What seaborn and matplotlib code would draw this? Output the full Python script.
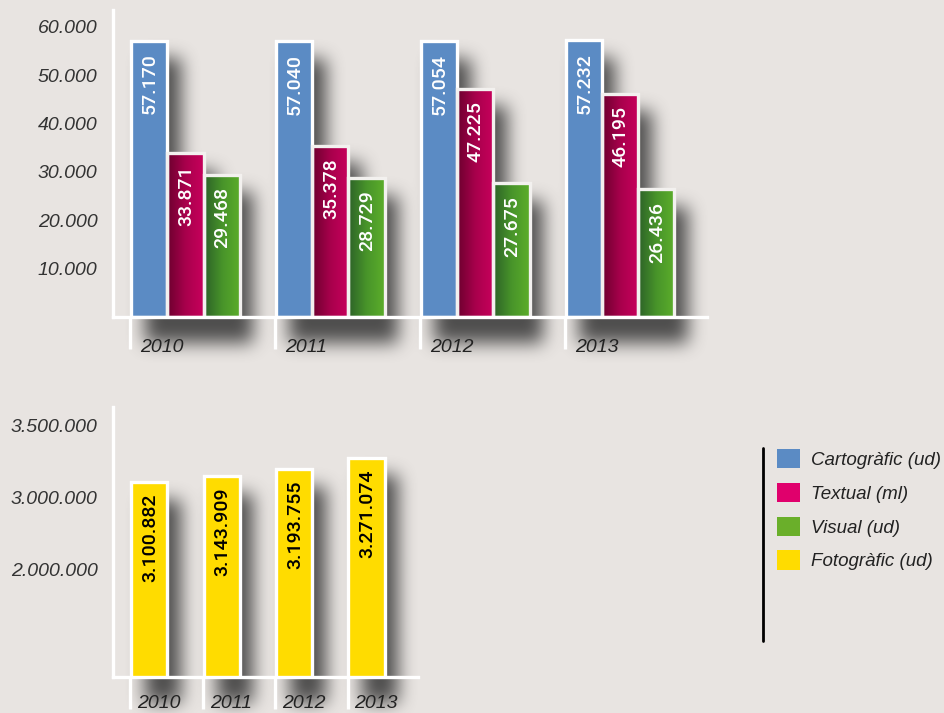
import numpy as np
import pandas as pd
import matplotlib
matplotlib.use("Agg")
import matplotlib.pyplot as plt
import seaborn as sns
from matplotlib.colors import LinearSegmentedColormap
from matplotlib.patches import Patch
from matplotlib.lines import Line2D

# ----------------------------
# DATA
# ----------------------------
years = ["2010", "2011", "2012", "2013"]
cartografic = [57170, 57040, 57054, 57232]
textual = [33871, 35378, 47225, 46195]
visual = [29468, 28729, 27675, 26436]
fotografic = [3100882, 3143909, 3193755, 3271074]

series_names = ["Cartogràfic (ud)", "Textual (ml)", "Visual (ud)", "Fotogràfic (ud)"]
series_colors = ["#5b8bc4", "#e0006c", "#6aaf2a", "#ffdc00"]

top_ticks = [10000, 20000, 30000, 40000, 50000, 60000]
top_tick_labels = ["10.000", "20.000", "30.000", "40.000", "50.000", "60.000"]
bottom_ticks = [2500000, 3000000, 3500000]
bottom_tick_labels = ["2.000.000", "3.000.000", "3.500.000"]

# ----------------------------
# STYLE
# ----------------------------
BG = "#e8e4e1"
sns.set_style("white")
plt.rcParams["font.family"] = ["Liberation Sans", "DejaVu Sans"]
plt.rcParams["figure.facecolor"] = BG

W, H = 944, 713
fig = plt.figure(figsize=(W / 100, H / 100), dpi=100)

ax_top = fig.add_axes([113 / W, 1 - 317 / H, 594 / W, 307 / H])
ax_bot = fig.add_axes([113 / W, 1 - 677 / H, 305 / W, 270 / H])


def fmt(v):
    return f"{v:,}".replace(",", ".")


# top chart: long form table
top_df = pd.DataFrame({
    "Any": years * 3,
    "Serie": [series_names[0]] * 4 + [series_names[1]] * 4 + [series_names[2]] * 4,
    "Valor": cartografic + textual + visual,
})
sns.barplot(data=top_df, x="Any", y="Valor", hue="Serie", ax=ax_top,
            palette=series_colors[:3], width=0.75, legend=False,
            edgecolor="white", linewidth=2.4, saturation=1)

bot_df = pd.DataFrame({"Any": years, "Valor": fotografic})
sns.barplot(data=bot_df, x="Any", y="Valor", ax=ax_bot, color=series_colors[3],
            width=0.5, edgecolor="white", linewidth=2.4, saturation=1)

# gradients for textual / visual bars
gradients = {
    1: LinearSegmentedColormap.from_list("mag", ["#6c002e", "#a8004c", "#c8005c"]),
    2: LinearSegmentedColormap.from_list("grn", ["#2c6128", "#48942a", "#5cae2a"]),
}
grad = np.linspace(0, 1, 128)[None, :]
for k, cont in enumerate(ax_top.containers):
    for p in cont.patches:
        p.set_zorder(3)
        if k in gradients:
            x0, w, h = p.get_x(), p.get_width(), p.get_height()
            ax_top.imshow(grad, extent=(x0, x0 + w, 0, h), aspect="auto",
                          cmap=gradients[k], zorder=2, interpolation="bilinear")
            p.set_facecolor("none")
            p.set_edgecolor("#f3f1ef")
ax_top.set_xlim(-0.5, 3.6)
ax_top.set_ylim(0, 63500)
ax_bot.set_xlim(-0.5, 3.71)
ax_bot.set_ylim(1750000, 3625000)

# bar value labels
lab_font = {"family": ["Roboto", "Liberation Sans"], "weight": "medium", "size": 14}
for k, cont in enumerate(ax_top.containers):
    vals = [cartografic, textual, visual][k]
    for p, v in zip(cont.patches, vals):
        ax_top.annotate(fmt(v), (p.get_x() + p.get_width() / 2, p.get_height()),
                        xytext=(0.5, -9), textcoords="offset points", rotation=90,
                        ha="center", va="top", color="white", zorder=5, **lab_font)
for p, v in zip(ax_bot.containers[0].patches, fotografic):
    p.set_zorder(3)
    ax_bot.annotate(fmt(v), (p.get_x() + p.get_width() / 2, p.get_height()),
                    xytext=(0.5, -8), textcoords="offset points", rotation=90,
                    ha="center", va="top", color="black", zorder=5, **lab_font)

# axes decoration
for ax, tick_x, year_x, year_off in [(ax_top, -0.38, -0.31, -22), (ax_bot, -0.26, -0.165, -19)]:
    ax.set_facecolor("none")
    for s in ["top", "right"]:
        ax.spines[s].set_visible(False)
    for s in ["left", "bottom"]:
        ax.spines[s].set_color("white")
        ax.spines[s].set_linewidth(2.4)
        ax.spines[s].set_zorder(6)
    ax.set_xlabel("")
    ax.set_ylabel("")
    ax.set_xticks([i + tick_x for i in range(len(years))], [""] * len(years))
    ax.tick_params(axis="x", bottom=True, length=23, width=2.4, color="white",
                   direction="out")
    ax.tick_params(axis="y", left=False, length=0, pad=11, labelsize=14,
                   labelcolor="#333333")
    for i, y in enumerate(years):
        ax.annotate(y, (i + year_x, 0), xycoords=ax.get_xaxis_transform(),
                    xytext=(0, year_off), textcoords="offset points", ha="left",
                    va="center", fontsize=14, style="italic", color="#222222",
                    annotation_clip=False)

ax_top.set_yticks(top_ticks, top_tick_labels, style="italic")
ax_bot.set_yticks(bottom_ticks, bottom_tick_labels, style="italic")


# ----------------------------
# DROP SHADOWS (blurred, behind bars)
# ----------------------------
def box_blur(a, r, passes=3):
    for _ in range(passes):
        for axis in (0, 1):
            pad = [(r + 1, r) if i == axis else (0, 0) for i in range(2)]
            c = np.cumsum(np.pad(a, pad), axis=axis)
            n = c.shape[axis]
            a = (np.take(c, range(2 * r + 1, n), axis=axis)
                 - np.take(c, range(0, n - 2 * r - 1), axis=axis)) / (2 * r + 1)
    return a


mask = np.zeros((H, W))
dx, dy, ext = 14, 18, 26
for ax in (ax_top, ax_bot):
    for cont in ax.containers:
        for p in cont.patches:
            x0, y0 = p.get_x(), max(p.get_y(), ax.get_ylim()[0])
            (px0, py0), (px1, py1) = ax.transData.transform(
                [(x0, y0), (x0 + p.get_width(), p.get_height())])
            c0, c1 = int(px0) + dx, int(px1) + dx
            r0, r1 = int(H - py1) + dy, int(H - py0) + ext
            mask[max(r0, 0):min(r1, H), max(c0, 0):min(c1, W)] = 1

shadow = box_blur(mask, 8)
rgba = np.zeros((H, W, 4))
rgba[..., :3] = 0.2
rgba[..., 3] = np.clip(shadow * 0.85, 0, 1)
fig.figimage(rgba, xo=0, yo=0, origin="upper", zorder=-1)

# ----------------------------
# LEGEND
# ----------------------------
handles = [Patch(facecolor=c, edgecolor="none") for c in series_colors]
fig.legend(handles, series_names, loc="upper left",
           bbox_to_anchor=(777 / W, 1 - 449 / H), frameon=False,
           prop={"style": "italic", "size": 13.5}, labelcolor="#222222",
           handlelength=1.2, handleheight=1.2, labelspacing=0.74,
           handletextpad=0.6, borderaxespad=0, borderpad=0)
fig.add_artist(Line2D([763 / W, 763 / W], [1 - 448 / H, 1 - 641 / H],
                      color="black", lw=2, transform=fig.transFigure))

fig.savefig("out.png", dpi=100, facecolor=BG)
